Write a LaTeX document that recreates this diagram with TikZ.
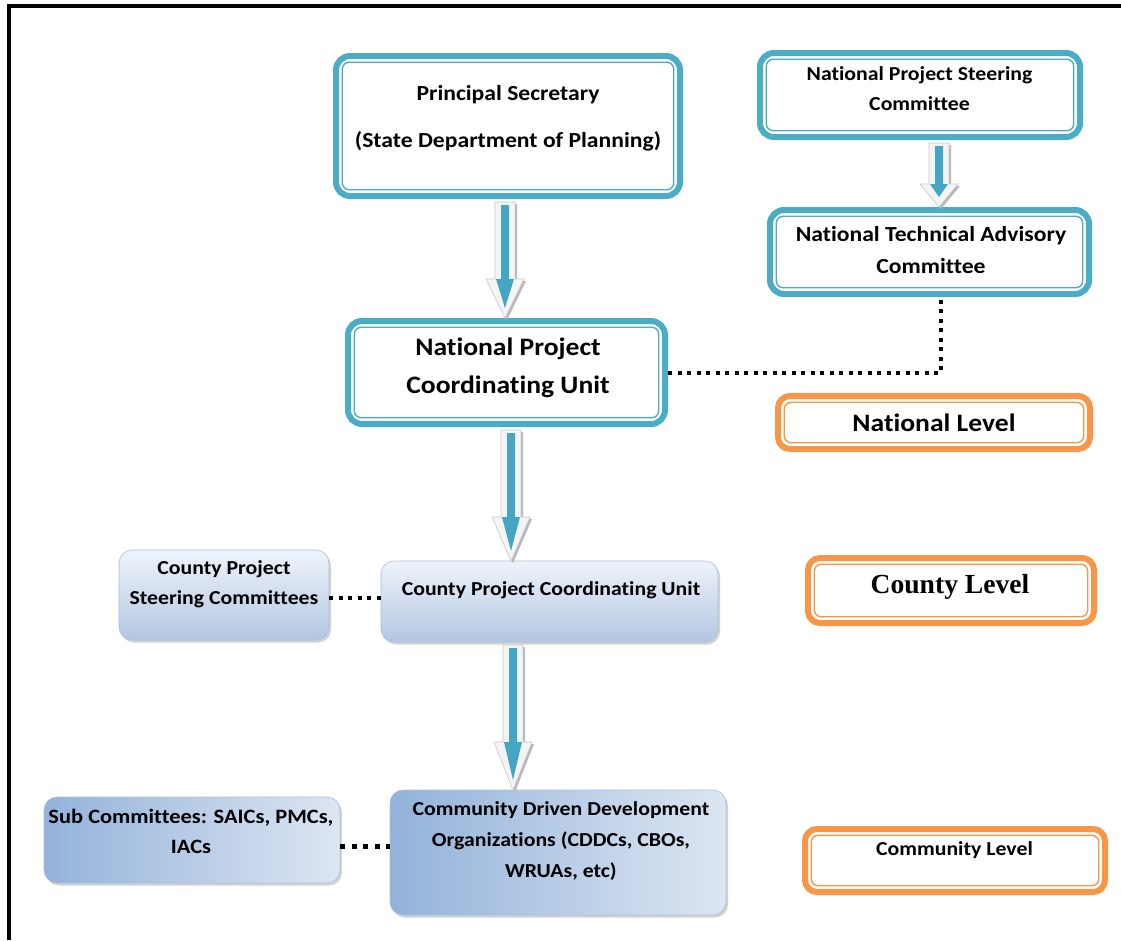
\documentclass[tikz,border=0pt]{standalone}
\usepackage{fontspec}
\newfontfamily\calfont[FakeStretch=1.1,Ligatures=NoCommon]{Carlito}
\newfontfamily\serfont{Liberation Serif}
\usetikzlibrary{calc,shadows}
\definecolor{tealline}{HTML}{4BACC6}
\definecolor{orangeline}{HTML}{F79646}
\definecolor{arrcore}{HTML}{45A6C4}
\definecolor{arrbody}{HTML}{F4F4F4}
\definecolor{arredge}{HTML}{C8C8C8}
\definecolor{gtop}{HTML}{EFF3FA}
\definecolor{gbot}{HTML}{B2C6E2}
\definecolor{gleft}{HTML}{93B2DA}
\definecolor{gright}{HTML}{DDE6F2}
\definecolor{gedge}{HTML}{A9BFDD}

\tikzset{
  framebox/.style={draw=#1, line width=6pt, fill=white, rounded corners=14pt,
    outer sep=3pt, inner sep=0pt},
  inframe/.style={draw=#1, line width=1.4pt, rounded corners=7pt},
  gbox/.style={draw=gedge, line width=0.6pt, rounded corners=13pt, inner sep=0pt,
    outer sep=0pt, drop shadow={shadow xshift=2pt, shadow yshift=-2.5pt, opacity=0.35}},
  vgrad/.style={gbox, top color=gtop, bottom color=gbot},
  hgrad/.style={gbox, left color=gleft, right color=gright},
  lbl/.style={align=center, inner sep=0pt, text=black,
    font=\calfont\bfseries\fontsize{#1}{30}\selectfont},
  dotline/.style={line width=4pt, dash pattern=on 4pt off 5.5pt},
  arrshadow/.style={fill=black!28},
  arrouter/.style={fill=arrbody, draw=arredge, line width=0.6pt},
  arrinner/.style={fill=arrcore},
}

% block arrow: #1 x offset, #2 source node, #3 target node, #4 head length
\newcommand\blkarrow[4]{%
  \coordinate (a-top) at ($(#2.south)+(#1pt,-3pt)$);
  \coordinate (a-tip) at (a-top |- #3.north);
  \fill[arrshadow] let \p1=(a-top), \p2=(a-tip) in
    (\x1-8pt,\y1-2pt) -- (\x1+12pt,\y1-2pt) -- (\x1+12pt,\y2+#4pt-2pt)
    -- (\x1+21pt,\y2+#4pt-2pt) -- (\x1+2pt,\y2-2pt) -- (\x1-17pt,\y2+#4pt-2pt)
    -- (\x1-8pt,\y2+#4pt-2pt) -- cycle;
  \filldraw[arrouter] let \p1=(a-top), \p2=(a-tip) in
    (\x1-10pt,\y1) -- (\x1+10pt,\y1) -- (\x1+10pt,\y2+#4pt) -- (\x1+19pt,\y2+#4pt)
    -- (\x1,\y2) -- (\x1-19pt,\y2+#4pt) -- (\x1-10pt,\y2+#4pt) -- cycle;
  \fill[arrinner] let \p1=(a-top), \p2=(a-tip) in
    (\x1-4pt,\y1-3pt) -- (\x1+4pt,\y1-3pt) -- (\x1+4pt,\y2+#4pt) -- (\x1+9pt,\y2+#4pt)
    -- (\x1,\y2+10pt) -- (\x1-9pt,\y2+#4pt) -- (\x1-4pt,\y2+#4pt) -- cycle;
}

\begin{document}
\begin{tikzpicture}[x=1pt,y=-1pt]
\useasboundingbox[fill=white] (0,0) rectangle (1121,940);

% page frame (left and top rules)
\draw[line width=4pt] (9,940) -- (9,6) -- (1121,6);

% national level boxes
\node[framebox=tealline, minimum width=344pt, minimum height=140pt] (ps) at (508,126) {};
\node[framebox=tealline, minimum width=320pt, minimum height=84pt] (npsc) at (920,95) {};
\node[framebox=tealline, minimum width=319pt, minimum height=84pt] (ntac) at (929.5,252) {};
\node[framebox=tealline, minimum width=317pt, minimum height=103pt] (npcu) at (506.5,372.5) {};

% level tags
\node[framebox=orangeline, rounded corners=12pt, minimum width=312pt, minimum height=53pt] (natl) at (934,422.5) {};
\node[framebox=orangeline, rounded corners=12pt, minimum width=286pt, minimum height=65pt] (cntl) at (951,590.5) {};
\node[framebox=orangeline, rounded corners=12pt, minimum width=300pt, minimum height=63pt] (coml) at (955,860.5) {};

\foreach \n/\c in {ps/tealline, npsc/tealline, ntac/tealline, npcu/tealline,
                   natl/orangeline, cntl/orangeline, coml/orangeline}
  \draw[inframe=\c] ($(\n.north west)+(9.25pt,-9.25pt)$) rectangle ($(\n.south east)+(-9.25pt,9.25pt)$);

% county and community boxes
\node[vgrad, minimum width=210pt, minimum height=90pt] (cpsc) at (224,595) {};
\node[vgrad, minimum width=337pt, minimum height=81pt] (cpcu) at (549.5,601.5) {};
\node[hgrad, minimum width=296pt, minimum height=86pt] (sub) at (192,840) {};
\node[hgrad, minimum width=336pt, minimum height=125pt] (cddo) at (558,852.5) {};

% labels
\node[lbl=21.5, font=\calfont\bfseries\fontsize{21.5}{47}\selectfont] (ps-t) at (508,118.5)
  {Principal Secretary\\(State Department of Planning)};
\node[lbl=19.8] (npsc-t) at (919.5,89) {National Project Steering\\Committee};
\node[lbl=21.5, font=\calfont\bfseries\fontsize{21.5}{32}\selectfont] (ntac-t) at (931,250)
  {National Technical Advisory\\Committee};
\node[lbl=25.1, font=\calfont\bfseries\fontsize{25.1}{38}\selectfont] (npcu-t) at (508,368)
  {National Project\\Coordinating Unit};
\node[lbl=25.1] (natl-t) at (934,423) {National Level};
\node[inner sep=0pt, font=\serfont\bfseries\fontsize{27.6}{30}\selectfont] (cntl-t) at (950,587) {County Level};
\node[lbl=19.8] (coml-t) at (954.5,850) {Community Level};
\node[lbl=19.8] (cpsc-t) at (224,584) {County Project\\Steering Committees};
\node[lbl=19.8] (cpcu-t) at (551,590) {County Project Coordinating Unit};
\node[lbl=20.4] (sub-t) at (191,831) {Sub Committees: SAICs, PMCs,\\IACs};
\node[lbl=19.8, font=\calfont\bfseries\fontsize{19.8}{31}\selectfont] (cddo-t) at (561,841)
  {Community Driven Development\\Organizations (CDDCs, CBOs,\\WRUAs, etc)};

% block arrows
\blkarrow{-3}{ps}{npcu}{39}
\blkarrow{19}{npsc}{ntac}{23}
\blkarrow{4.5}{npcu}{cpcu}{44}
\blkarrow{-36.5}{cpcu}{cddo}{48}

% dotted links
\coordinate (ntac-foot) at ($(ntac.south)+(11.5pt,0)$);
\draw[dotline] (npcu.east) -- (npcu.east -| ntac-foot) -- (ntac-foot);
\draw[dotline] ([yshift=-3pt]cpsc.east) -- ([yshift=-3pt]cpsc.east -| cpcu.west);
\draw[dotline, line width=5pt, dash pattern=on 5pt off 6.5pt] ([yshift=-6pt]sub.east) -- ([yshift=-6pt]sub.east -| cddo.west);
\end{tikzpicture}
\end{document}
